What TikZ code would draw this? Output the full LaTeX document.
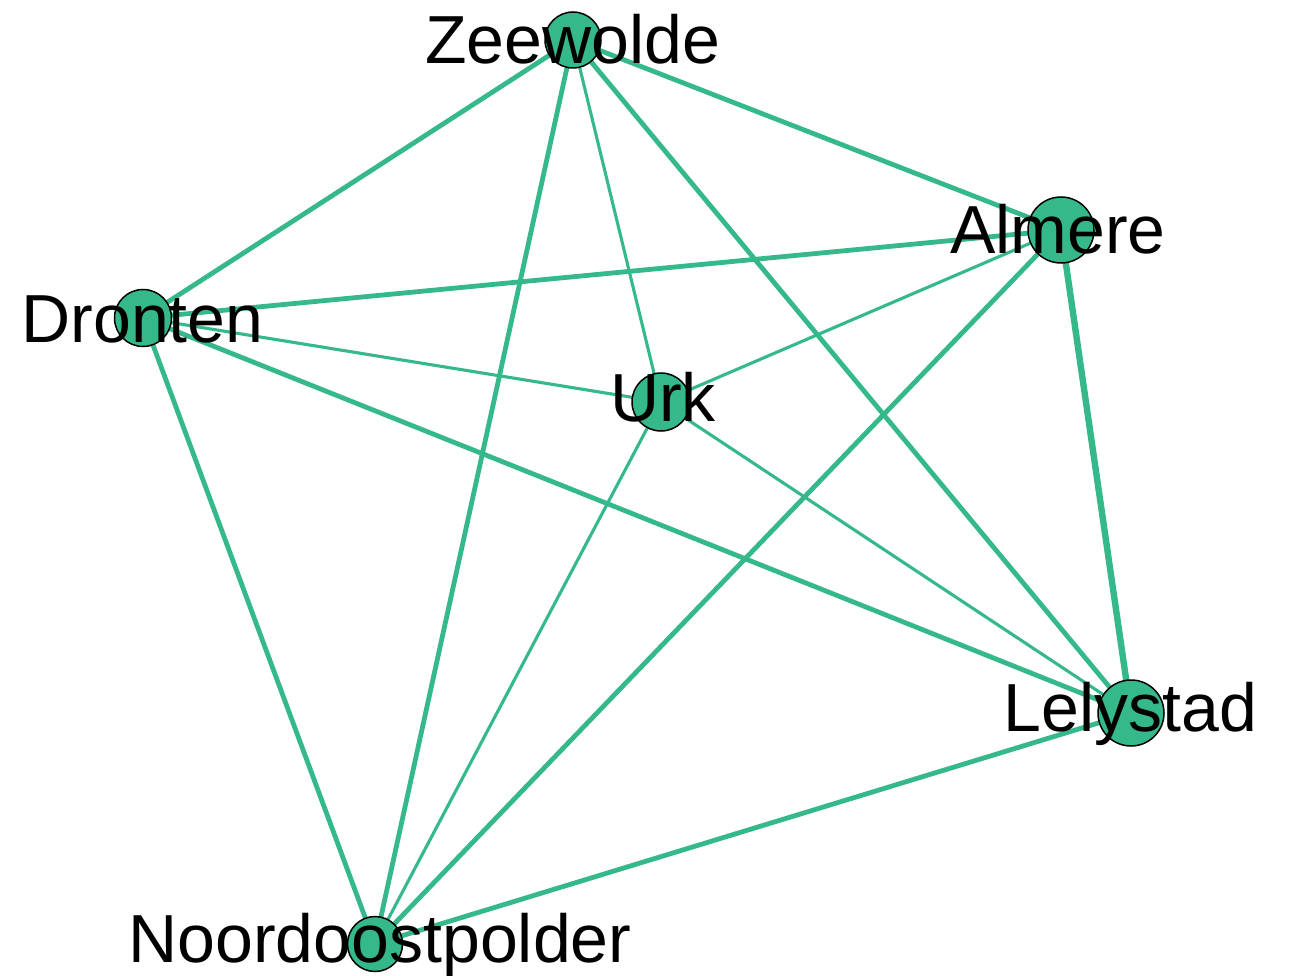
\documentclass[tikz,border=0pt]{standalone}
\usepackage{fontspec}
\setmainfont{Liberation Sans}
\definecolor{edgegreen}{RGB}{53,185,138}
\begin{document}
\begin{tikzpicture}[x=1pt,y=-1pt,
  vert/.style={circle,draw=black,line width=1.5pt,fill=edgegreen,inner sep=0pt},
  lab/.style={anchor=base,inner sep=0pt,text=black,font=\fontsize{68}{80}\selectfont},
  thinedge/.style={draw=edgegreen,line width=3.1pt},
  thickedge/.style={draw=edgegreen,line width=4.8pt},
  heavyedge/.style={draw=edgegreen,line width=6.4pt}]
\useasboundingbox (0,0) rectangle (1293,976);
% vertices (coordinates first, circles drawn after edges)
\coordinate (Z) at (573,40);
\coordinate (A) at (1061,230);
\coordinate (D) at (143,318);
\coordinate (U) at (661,402);
\coordinate (L) at (1131,713);
\coordinate (N) at (375,944);
% edges
\draw[thickedge] (Z) -- (D);
\draw[thickedge] (Z) -- (A);
\draw[thickedge] (Z) -- (N);
\draw[thinedge] (Z) -- (U);
\draw[thickedge] (Z) -- (L);
\draw[thickedge] (A) -- (D);
\draw[thinedge] (A) -- (U);
\draw[heavyedge] (A) -- (L);
\draw[thickedge] (A) -- (N);
\draw[thinedge] (D) -- (U);
\draw[thickedge] (D) -- (L);
\draw[thickedge] (D) -- (N);
\draw[thinedge] (U) -- (L);
\draw[thinedge] (U) -- (N);
\draw[thickedge] (N) -- (L);
% vertex circles
\node[vert,minimum size=56pt] (cZ) at (Z) {};
\node[vert,minimum size=66pt] (cA) at (A) {};
\node[vert,minimum size=57pt] (cD) at (D) {};
\node[vert,minimum size=58pt] (cU) at (U) {};
\node[vert,minimum size=66pt] (cL) at (L) {};
\node[vert,minimum size=55pt] (cN) at (N) {};
% labels
\node[lab] (tZ) at (572.5,64) {Zeewolde};
\node[lab] (tA) at (1058,254) {Almere};
\node[lab] (tD) at (142.5,342) {Dronten};
\node[lab] (tU) at (663,421) {Urk};
\node[lab] (tL) at (1130.5,731) {Lelystad};
\node[lab] (tN) at (380,962) {Noordoostpolder};
\end{tikzpicture}
\end{document}
